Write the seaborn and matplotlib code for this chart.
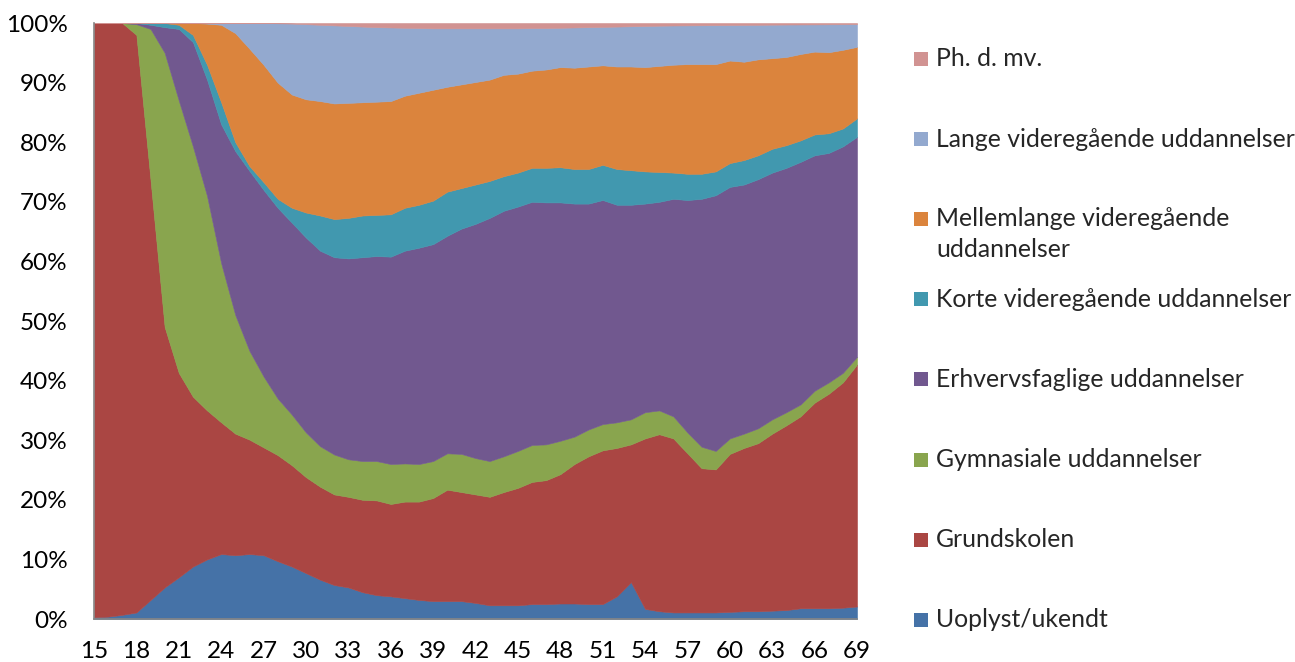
import numpy as np
import matplotlib
matplotlib.use("Agg")
import matplotlib.pyplot as plt
import seaborn as sns
from matplotlib.patches import Rectangle
from matplotlib.ticker import FuncFormatter

# ages on the x axis
ages = list(range(15, 70))

# upper edge (cumulative %) of each band, bottom to top
top_uoplyst = [0.3, 0.4, 0.7, 1.1, 3.2, 5.3, 7.0, 8.8, 10.0, 10.9, 10.7, 10.9, 10.7, 9.7, 8.8,
               7.7, 6.6, 5.7, 5.3, 4.5, 4.0, 3.8, 3.5, 3.2, 3.0, 3.0, 3.0, 2.7, 2.3, 2.3,
               2.3, 2.5, 2.5, 2.6, 2.6, 2.5, 2.5, 3.8, 6.2, 1.7, 1.3, 1.1, 1.1, 1.1, 1.1,
               1.2, 1.3, 1.3, 1.4, 1.5, 1.8, 1.8, 1.8, 1.9, 2.1]
top_grundskolen = [100, 100, 100, 98.0, 73.7, 49.0, 41.3, 37.3, 35.0, 33.0, 31.1, 30.1, 28.8, 27.5, 25.8,
                   23.8, 22.2, 20.9, 20.5, 20.0, 19.9, 19.3, 19.7, 19.7, 20.3, 21.7, 21.3, 20.9, 20.5, 21.3,
                   22.0, 23.0, 23.3, 24.3, 26.0, 27.3, 28.3, 28.7, 29.3, 30.3, 31.0, 30.3, 27.8, 25.3, 25.1,
                   27.7, 28.7, 29.5, 31.1, 32.5, 34.0, 36.3, 37.8, 39.7, 42.7]
top_gymnasiale = [100, 100, 100, 99.8, 99.0, 95.0, 87.0, 79.3, 71.0, 59.7, 51.0, 45.0, 40.7, 37.0, 34.3,
                  31.3, 29.0, 27.6, 26.8, 26.5, 26.5, 26.0, 26.1, 26.0, 26.5, 27.8, 27.7, 27.0, 26.5, 27.3,
                  28.2, 29.2, 29.3, 29.9, 30.6, 31.8, 32.7, 33.0, 33.5, 34.7, 35.0, 34.0, 31.3, 28.9, 28.2,
                  30.3, 31.1, 32.0, 33.5, 34.7, 36.0, 38.3, 39.7, 41.3, 44.0]
top_erhverv = [100, 100, 100, 100, 99.7, 99.3, 99.0, 96.8, 90.5, 83.0, 78.5, 75.2, 72.0, 69.0, 66.5,
               64.0, 61.8, 60.7, 60.5, 60.7, 60.9, 60.8, 61.8, 62.3, 62.9, 64.3, 65.5, 66.3, 67.3, 68.5,
               69.2, 70.0, 69.9, 69.9, 69.7, 69.7, 70.3, 69.5, 69.5, 69.7, 70.0, 70.5, 70.3, 70.5, 71.1,
               72.5, 72.9, 73.8, 74.9, 75.7, 76.7, 77.8, 78.2, 79.3, 80.9]
top_korte = [100, 100, 100, 100, 100, 100, 99.7, 98.0, 93.0, 86.7, 80.0, 76.0, 73.3, 70.5, 69.0,
             68.2, 67.7, 67.1, 67.3, 67.7, 67.8, 67.9, 69.0, 69.5, 70.2, 71.7, 72.3, 72.9, 73.5, 74.3,
             74.9, 75.7, 75.7, 75.8, 75.5, 75.5, 76.2, 75.5, 75.3, 75.1, 75.0, 74.9, 74.7, 74.7, 75.1,
             76.5, 77.0, 77.8, 78.9, 79.5, 80.3, 81.3, 81.5, 82.3, 84.0]
top_mellemlange = [100, 100, 100, 100, 100, 100, 100, 100, 99.9, 99.7, 98.3, 95.7, 93.0, 90.0, 88.0,
                   87.2, 86.9, 86.5, 86.6, 86.7, 86.8, 86.9, 87.8, 88.3, 88.8, 89.3, 89.7, 90.1, 90.5, 91.3,
                   91.5, 92.0, 92.2, 92.6, 92.5, 92.7, 92.9, 92.7, 92.7, 92.6, 92.8, 93.0, 93.1, 93.1, 93.1,
                   93.7, 93.5, 93.9, 94.1, 94.3, 94.8, 95.2, 95.1, 95.5, 96.0]
top_lange = [100, 100, 100, 100, 100, 100, 100, 100, 100, 100, 100, 100, 100, 99.95, 99.9,
             99.8, 99.7, 99.6, 99.5, 99.4, 99.3, 99.25, 99.2, 99.15, 99.1, 99.1, 99.1, 99.1, 99.1, 99.1,
             99.1, 99.15, 99.15, 99.2, 99.25, 99.3, 99.35, 99.4, 99.45, 99.5, 99.55, 99.58, 99.6, 99.62, 99.64,
             99.66, 99.68, 99.7, 99.72, 99.74, 99.75, 99.76, 99.78, 99.79, 99.8]
top_phd = [100] * len(ages)

labels = ["Uoplyst/ukendt", "Grundskolen", "Gymnasiale uddannelser",
          "Erhvervsfaglige uddannelser", "Korte videregående uddannelser",
          "Mellemlange videregående\nuddannelser", "Lange videregående uddannelser",
          "Ph. d. mv."]
colors = ["#4572A7", "#AA4643", "#89A54E", "#71588F", "#4198AF", "#DB843D", "#93A9CF", "#D19392"]

edges = np.array([[0] * len(ages), top_uoplyst, top_grundskolen, top_gymnasiale, top_erhverv,
                  top_korte, top_mellemlange, top_lange, top_phd], dtype=float)
shares = np.diff(edges, axis=0)

sns.set_theme(style="white")
plt.rcParams["font.family"] = ["Lato", "DejaVu Sans"]
palette = sns.color_palette(colors)

fig = plt.figure(figsize=(12.95, 6.62), dpi=100)
ax = fig.add_axes([94 / 1295, 1 - 619 / 662, (857 - 94) / 1295, (619 - 23) / 662])

ax.stackplot(ages, shares, colors=palette, linewidth=0.4, edgecolor="face", antialiased=True)

ax.set_xlim(15, 69)
ax.set_ylim(0, 100)
ax.set_xticks(ages)
ax.set_xticklabels([str(a) if (a - 15) % 3 == 0 else "" for a in ages])
ax.set_yticks(range(0, 101, 10))
ax.yaxis.set_major_formatter(FuncFormatter(lambda v, p: f"{v:.0f}%"))
ax.tick_params(axis="both", labelsize=17.5, colors="#868686", labelcolor="black",
               length=7, width=1, direction="out")
ax.tick_params(axis="x", pad=9)
ax.tick_params(axis="y", pad=12)
for side in ["top", "right"]:
    ax.spines[side].set_visible(False)
for side in ["left", "bottom"]:
    ax.spines[side].set_color("#868686")
    ax.spines[side].set_linewidth(1.2)
ax.grid(False)

# legend on the right, top entry first
step = 80.1
line_px = 30
for i, (lab, col) in enumerate(zip(labels[::-1], colors[::-1])):
    yc = 59 + step * i
    fig.add_artist(Rectangle((914 / 1295, 1 - (yc + 7) / 662), 14 / 1295, 14 / 662,
                             transform=fig.transFigure, facecolor=col, edgecolor="none"))
    nl = lab.count("\n")
    fig.text(936 / 1295, 1 - (yc + nl * line_px / 2) / 662, lab, fontsize=17.8,
             va="center", ha="left", linespacing=1.45)

fig.savefig("out.png", dpi=100)
